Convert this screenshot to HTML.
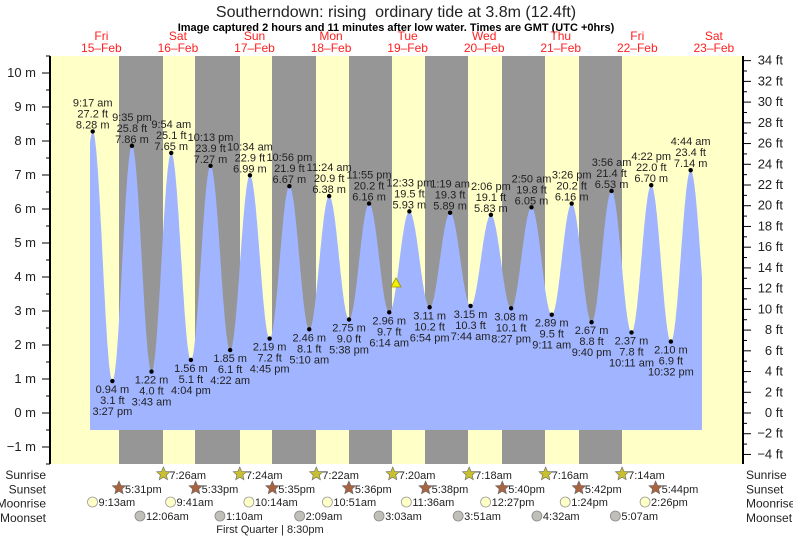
<!DOCTYPE html>
<html><head><meta charset="utf-8"><style>
html,body{margin:0;padding:0;background:#fff;width:793px;height:538px;overflow:hidden}
svg{display:block;font-family:"Liberation Sans",sans-serif}
</style></head><body>
<svg id="s" width="793" height="538" xmlns="http://www.w3.org/2000/svg"></svg>
<script>
var S=document.getElementById('s'),h='';
var X0=63.1,K=3.19;function X(t){return X0+t*K}
function Y(m){return 413-34*m}
function tx(x,y,s,o){o=o||{};h+='<text x="'+x+'" y="'+y+'" font-size="'+(o.fs||11)+'" fill="'+(o.c||'#222')+'" text-anchor="'+(o.a||'middle')+'"'+(o.b?' font-weight="bold"':'')+'>'+s+'</text>';}
h+='<rect x="50" y="56" width="693" height="408" fill="#ffffc8"/>';
var g=[[119,163],[195,240],[272,316],[349,392],[425,468],[502,545],[579,622]];
g.forEach(function(b){h+='<rect x="'+b[0]+'" y="56" width="'+(b[1]-b[0])+'" height="408" fill="#969696"/>';});
function hm(s){var m=s.match(/(\d+):(\d+) (am|pm)/),H=+m[1]%12;if(m[3]=='pm')H+=12;return H+ +m[2]/60;}
var E=[[0,'9:17 am',8.28,'27.2'],[0,'3:27 pm',0.94,'3.1'],[0,'9:35 pm',7.86,'25.8'],[1,'3:43 am',1.22,'4.0'],[1,'9:54 am',7.65,'25.1'],[1,'4:04 pm',1.56,'5.1'],[1,'10:13 pm',7.27,'23.9'],[2,'4:22 am',1.85,'6.1'],[2,'10:34 am',6.99,'22.9'],[2,'4:45 pm',2.19,'7.2'],[2,'10:56 pm',6.67,'21.9'],[3,'5:10 am',2.46,'8.1'],[3,'11:24 am',6.38,'20.9'],[3,'5:38 pm',2.75,'9.0'],[3,'11:55 pm',6.16,'20.2'],[4,'6:14 am',2.96,'9.7'],[4,'12:33 pm',5.93,'19.5'],[4,'6:54 pm',3.11,'10.2'],[5,'1:19 am',5.89,'19.3'],[5,'7:44 am',3.15,'10.3'],[5,'2:06 pm',5.83,'19.1'],[5,'8:27 pm',3.08,'10.1'],[6,'2:50 am',6.05,'19.8'],[6,'9:11 am',2.89,'9.5'],[6,'3:26 pm',6.16,'20.2'],[6,'9:40 pm',2.67,'8.8'],[7,'3:56 am',6.53,'21.4'],[7,'10:11 am',2.37,'7.8'],[7,'4:22 pm',6.70,'22.0'],[7,'10:32 pm',2.10,'6.9'],[8,'4:44 am',7.14,'23.4']];
var P=E.map(function(e){return [e[0]*24+hm(e[1]),e[2]]});
P.unshift([P[0][0]-6.2,1.0]);P.push([P[P.length-1][0]+6.2,2.0]);
function lv(t){for(var i=0;i<P.length-1;i++){if(t>=P[i][0]&&t<=P[i+1][0]){var f=(t-P[i][0])/(P[i+1][0]-P[i][0]);return P[i][1]+(P[i+1][1]-P[i][1])*(1-Math.cos(Math.PI*f))/2;}}return 0;}
var t0=(90-X0)/K,t1=(702-X0)/K,d='M90,430';
for(var t=t0;t<=t1;t+=0.1)d+=' L'+X(t).toFixed(1)+','+Y(lv(t)).toFixed(1);
d+=' L702,'+Y(lv(t1)).toFixed(1)+' L702,430Z';
h+='<path d="'+d+'" fill="#a0b4ff"/>';
E.forEach(function(e,i){var x=X(e[0]*24+hm(e[1])),y=Y(e[2]);h+='<circle cx="'+x+'" cy="'+y+'" r="2.2" fill="#000"/>';
 var hi=e[2]>4;if(hi){tx(x,y-25,e[1]);tx(x,y-14,e[3]+' ft');tx(x,y-3,e[2].toFixed(2)+' m');}
 else{tx(x,y+12,e[2].toFixed(2)+' m');tx(x,y+23,e[3]+' ft');tx(x,y+34,e[1]);}});
h+='<polygon points="396,278 391,287 401,287" fill="#f0f000" stroke="#a09000" stroke-width="0.8"/>';
h+='<line x1="50" y1="56" x2="50" y2="464" stroke="#000" stroke-width="2"/><line x1="743" y1="56" x2="743" y2="464" stroke="#000" stroke-width="2"/>';
for(var m=-1.5;m<=10.5;m+=0.5){var y=Y(m);if(y<56||y>464)continue;var mj=m%1==0;h+='<line x1="'+(mj?42:46)+'" y1="'+y+'" x2="50" y2="'+y+'" stroke="#000"/>';if(mj)tx(36,y+4,(m<0?'\u22121':m)+' m',{fs:13,a:'end'});}
for(var f=-5;f<=34;f++){var y=413-f*34/3.2808;if(y<56||y>464)continue;var mj=f%2==0;h+='<line x1="743" y1="'+y+'" x2="'+(mj?751:747)+'" y2="'+y+'" stroke="#000"/>';if(mj)tx(783,y+4,(f<0?'\u2212'+(-f):f)+' ft',{fs:13,a:'end'});}
tx(396,17,'Southerndown: rising&#160; ordinary tide at 3.8m (12.4ft)',{fs:16});
tx(396,31,'Image captured 2 hours and 11 minutes after low water. Times are GMT (UTC +0hrs)',{fs:11,b:1,c:'#000'});
var D=[['Fri','15'],['Sat','16'],['Sun','17'],['Mon','18'],['Tue','19'],['Wed','20'],['Thu','21'],['Fri','22'],['Sat','23']];
D.forEach(function(dd,i){var x=X(i*24+12);tx(x,40,dd[0],{fs:12,c:'#ff2020'});tx(x,52,dd[1]+'\u2013Feb',{fs:12,c:'#ff2020'});});
['Sunrise','Sunset','Moonrise','Moonset'].forEach(function(l,i){var y=479+i*14.3;tx(46,y,l,{fs:12,a:'end'});tx(746,y,l,{fs:12,a:'start'});});
function star(x,y,c){var p='';for(var k=0;k<10;k++){var r=k%2?3.2:7,a=-Math.PI/2+k*Math.PI/5;p+=(x+r*Math.cos(a)).toFixed(1)+','+(y+r*Math.sin(a)).toFixed(1)+' ';}h+='<polygon points="'+p+'" fill="'+c+'" stroke="#666" stroke-width="0.6"/>';}
var SR=['7:26','7:24','7:22','7:20','7:18','7:16','7:14'];
SR.forEach(function(s,i){var x=X((i+1)*24+hm(s+' am'));star(x,474,'#c8c030');tx(x+6,479,s+'am',{fs:11,a:'start'});});
var SS=['5:31','5:33','5:35','5:36','5:38','5:40','5:42','5:44'];
SS.forEach(function(s,i){var x=X(i*24+hm(s+' pm'));star(x,488,'#a86440');tx(x+6,493,s+'pm',{fs:11,a:'start'});});
var MR=['9:13 am','9:41 am','10:14 am','10:51 am','11:36 am','12:27 pm','1:24 pm','2:26 pm'];
MR.forEach(function(s,i){var x=X(i*24+hm(s));h+='<circle cx="'+x+'" cy="502" r="5" fill="#ffffc8" stroke="#999" stroke-width="0.8"/>';tx(x+6,506,s.replace(' ',''),{fs:11,a:'start'});});
var MS=['12:06 am','1:10 am','2:09 am','3:03 am','3:51 am','4:32 am','5:07 am'];
MS.forEach(function(s,i){var x=X((i+1)*24+hm(s));h+='<circle cx="'+x+'" cy="516" r="5" fill="#c0c0b8" stroke="#888" stroke-width="0.8"/>';tx(x+6,520,s.replace(' ',''),{fs:11,a:'start'});});
tx(270,533,'First Quarter | 8:30pm',{fs:11});
S.innerHTML=h;
</script>
</body></html>
